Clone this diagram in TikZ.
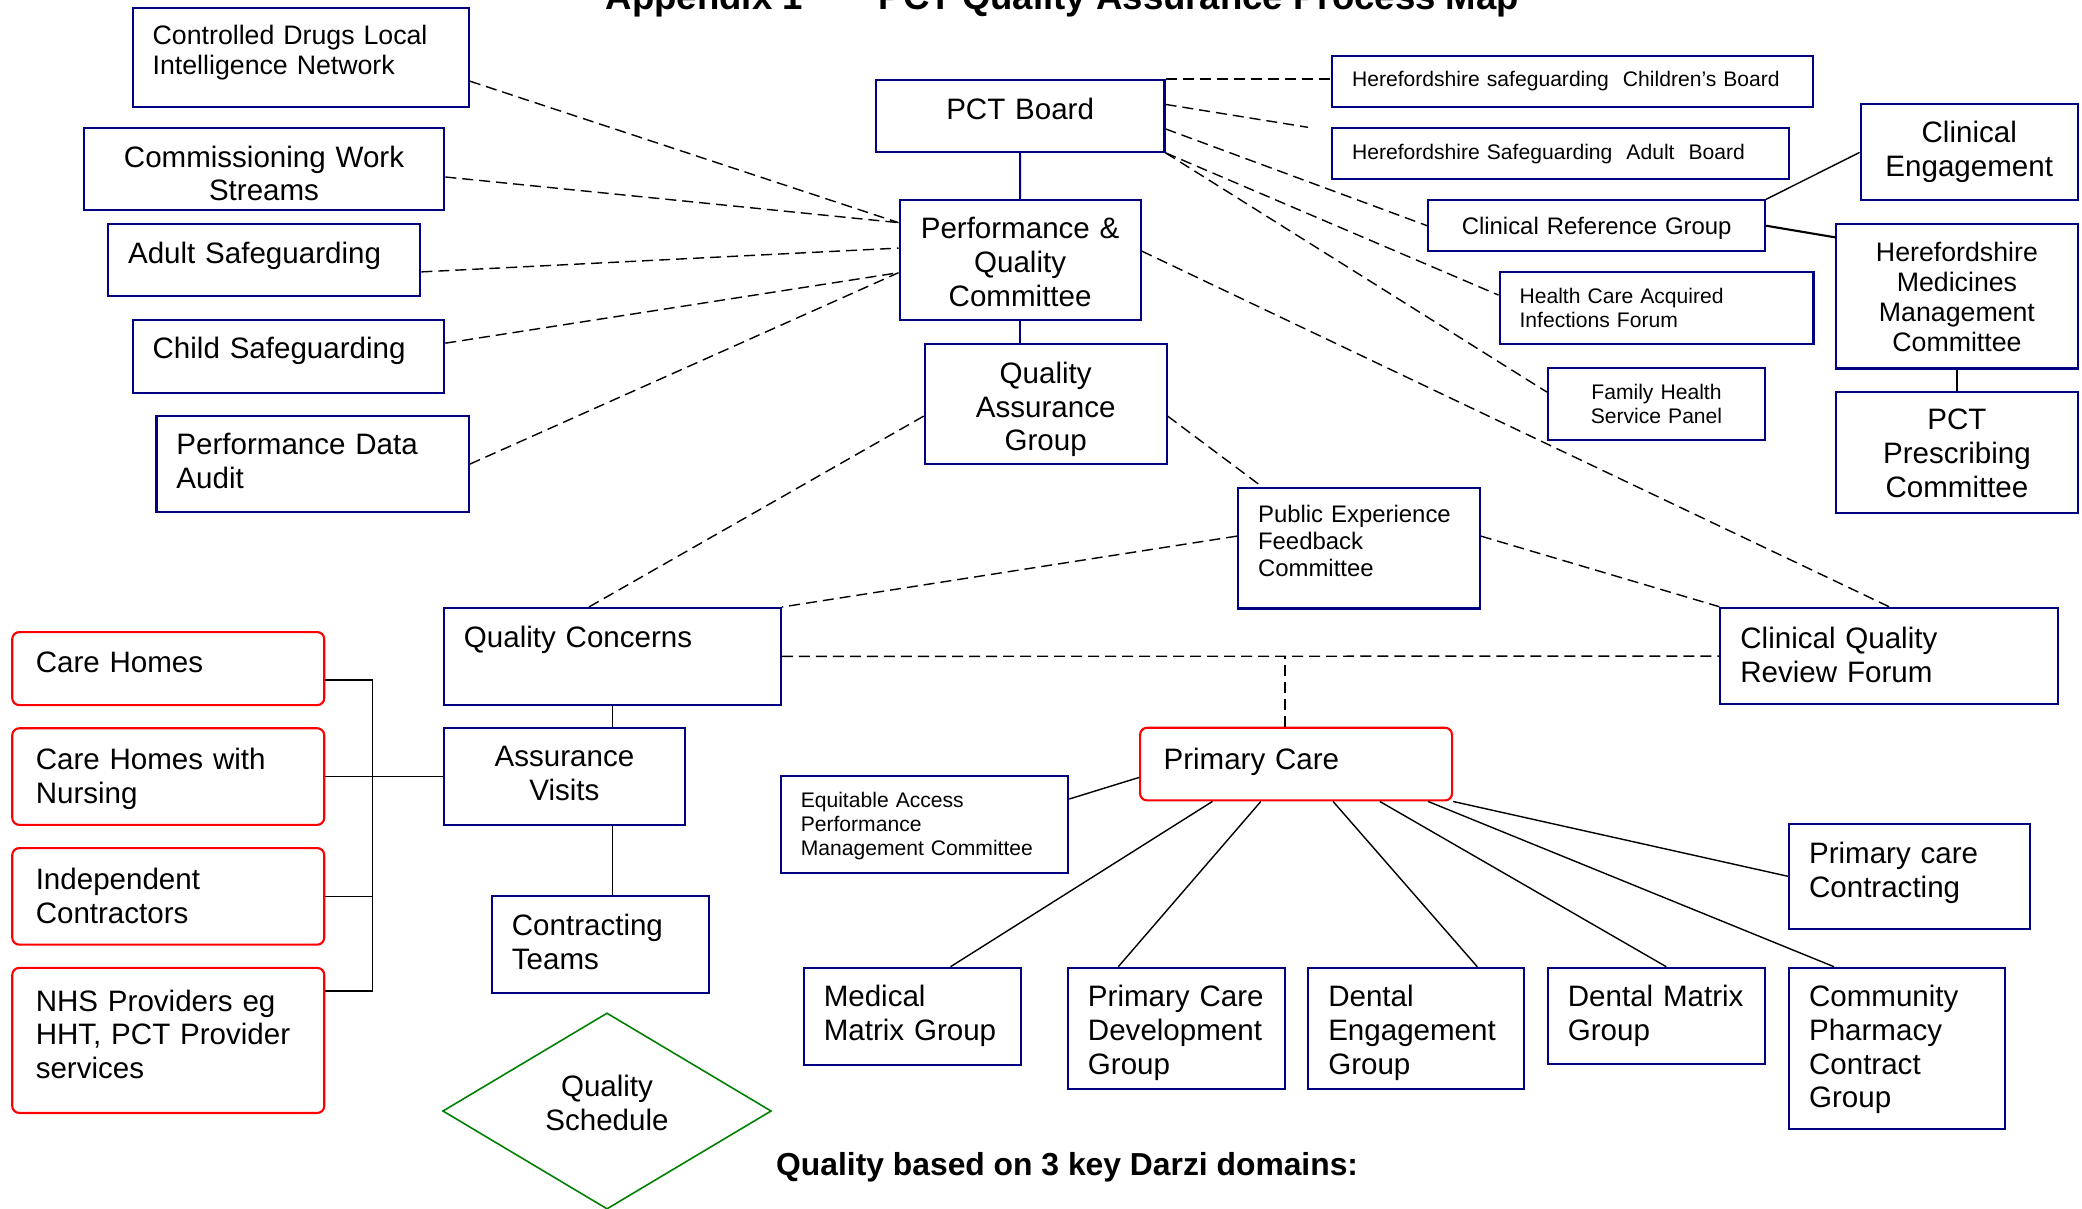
\documentclass[tikz,border=0pt]{standalone}
\usepackage{fontspec}
\setmainfont{Liberation Sans}
\usetikzlibrary{shapes.geometric}

\definecolor{boxblue}{RGB}{0,0,128}
\definecolor{carered}{RGB}{255,0,0}
\definecolor{schedgreen}{RGB}{0,128,0}

\newcommand{\sizemain}{\fontsize{8.4}{9.6}\selectfont}
\newcommand{\sizemid}{\fontsize{7.6}{8.55}\selectfont}
\newcommand{\sizesmall}{\fontsize{6.8}{7.6}\selectfont}
\newcommand{\sizetiny}{\fontsize{6}{6.8}\selectfont}
\newcommand{\sizetitle}{\fontsize{10.4}{12}\selectfont\bfseries}
\newcommand{\sizenote}{\fontsize{9.05}{11}\selectfont\bfseries}

\tikzset{
  navybox/.style={draw=boxblue, line width=0.6pt, fill=white, anchor=north west,
    inner xsep=0.2cm, inner ysep=0pt, font=\sizemain, align=left},
  redbox/.style={navybox, draw=carered, rounded corners=0.07cm, inner xsep=0.235cm},
  dims/.style n args={3}{text width=#1, text height=#2, text depth=#3},
  dashlink/.style={draw=black, line width=0.4pt, dash pattern=on 0.11cm off 0.06cm},
  link/.style={draw=black, line width=0.4pt},
  navylink/.style={draw=boxblue, line width=0.6pt},
}

\begin{document}
\begin{tikzpicture}[x=0.01cm, y=-0.01cm]
\useasboundingbox (0,0) rectangle (2082,1208);

\node (title) at (605,9) [anchor=base west, inner sep=0pt, font=\sizetitle] {Appendix 1\hspace{0.76cm}PCT Quality Assurance Process Map};
\node (darzi) at (775.5,1175) [anchor=base west, inner sep=0pt, font=\sizenote] {Quality based on 3 key Darzi domains:};

% left column
\node (cdlin) at (131.6,6.7) [navybox, font=\sizemid, dims={2.96cm}{0.365cm}{0.628cm}] {Controlled Drugs Local\\Intelligence Network};
\node (cws) at (82.7,127) [navybox, align=center, dims={3.203cm}{0.39cm}{0.428cm}] {Commissioning Work\\Streams};
\node (adult) at (107,222.6) [navybox, dims={2.72cm}{0.40cm}{0.324cm}] {Adult Safeguarding};
\node (child) at (131.6,318.7) [navybox, dims={2.714cm}{0.387cm}{0.341cm}] {Child Safeguarding};
\node (pda) at (155.4,415) [navybox, dims={2.722cm}{0.385cm}{0.575cm}] {Performance Data\\Audit};

% centre column
\node (pct) at (874.7,79) [navybox, align=center, dims={2.486cm}{0.392cm}{0.325cm}] {PCT Board};
\node (pqc) at (898.5,199) [navybox, align=center, dims={2.01cm}{0.386cm}{0.814cm}] {Performance \&\\Quality\\Committee};
\node (qag) at (923.7,343) [navybox, align=center, dims={2.017cm}{0.393cm}{0.807cm}] {Quality\\Assurance\\Group};
\node (pefc) at (1237,486.7) [navybox, font=\sizesmall, dims={2.016cm}{0.352cm}{0.854cm}] {Public Experience\\Feedback\\Committee};

% right column
\node (hscb) at (1331,55) [navybox, font=\sizetiny, dims={4.41cm}{0.309cm}{0.201cm}] {Herefordshire safeguarding\ \ Children’s Board};
\node (hsab) at (1331,127.3) [navybox, font=\sizetiny, dims={4.168cm}{0.31cm}{0.194cm}] {Herefordshire Safeguarding\ \ Adult\ \ Board};
\node (crg) at (1427.2,199.3) [navybox, font=\sizesmall, align=center, dims={2.966cm}{0.343cm}{0.164cm}] {Clinical Reference Group};
\node (hcai) at (1498.5,270.7) [navybox, font=\sizetiny, dims={2.737cm}{0.319cm}{0.407cm}] {Health Care Acquired\\Infections Forum};
\node (fhsp) at (1546.9,366.7) [navybox, font=\sizetiny, align=center, dims={1.769cm}{0.319cm}{0.407cm}] {Family Health\\Service Panel};
\node (ce) at (1859.6,103.3) [navybox, align=center, dims={1.77cm}{0.38cm}{0.58cm}] {Clinical\\Engagement};
\node (hmmc) at (1835,222.7) [navybox, font=\sizemid, align=center, dims={2.016cm}{0.376cm}{1.07cm}] {Herefordshire\\Medicines\\Management\\Committee};
\node (ppc) at (1835,390.7) [navybox, align=center, dims={2.016cm}{0.382cm}{0.828cm}] {PCT\\Prescribing\\Committee};
\node (cqrf) at (1719.3,606.7) [navybox, dims={2.971cm}{0.406cm}{0.56cm}] {Clinical Quality\\Review Forum};

% assurance and providers
\node (qc) at (442.9,607) [navybox, dims={2.967cm}{0.393cm}{0.572cm}] {Quality Concerns};
\node (av) at (442.9,727.2) [navybox, align=center, dims={2.008cm}{0.384cm}{0.581cm}] {Assurance\\Visits};
\node (ct) at (490.8,895) [navybox, dims={1.769cm}{0.394cm}{0.572cm}] {Contracting\\Teams};
\node (ch) at (11.2,631) [redbox, dims={2.648cm}{0.405cm}{0.325cm}] {Care Homes};
\node (chn) at (11.2,727.2) [redbox, dims={2.648cm}{0.416cm}{0.549cm}] {Care Homes with\\Nursing};
\node (ic) at (11.2,847) [redbox, dims={2.648cm}{0.416cm}{0.549cm}] {Independent\\Contractors};
\node (nhs) at (11.2,966.8) [redbox, dims={2.648cm}{0.432cm}{1.018cm}] {NHS Providers eg\\HHT, PCT Provider\\services};
\node (qs) at (607,1111) [diamond, draw=schedgreen, line width=0.45pt, fill=white, minimum width=3.285cm, minimum height=1.91cm, inner sep=0pt, align=center, font=\sizemain, text height=0.555cm, text depth=0.175cm] {Quality\\Schedule};

% primary care
\node (pc) at (1139,726.7) [redbox, dims={2.648cm}{0.412cm}{0.314cm}] {Primary Care};
\node (eapmc) at (779.7,775) [navybox, font=\sizetiny, dims={2.472cm}{0.316cm}{0.651cm}] {Equitable Access\\Performance\\Management Committee};
\node (pcc) at (1788,822.7) [navybox, dims={2.004cm}{0.396cm}{0.654cm}] {Primary care\\Contracting};
\node (mmg) at (802.7,966.7) [navybox, dims={1.774cm}{0.389cm}{0.584cm}] {Medical\\Matrix Group};
\node (pcdg) at (1066.9,966.7) [navybox, dims={1.766cm}{0.389cm}{0.821cm}] {Primary Care\\Development\\Group};
\node (deg) at (1307.2,966.7) [navybox, dims={1.758cm}{0.389cm}{0.821cm}] {Dental\\Engagement\\Group};
\node (dmg) at (1546.8,966.7) [navybox, dims={1.766cm}{0.389cm}{0.577cm}] {Dental Matrix\\Group};
\node (cpcg) at (1788,966.7) [navybox, dims={1.758cm}{0.389cm}{1.221cm}] {Community\\Pharmacy\\Contract\\Group};

% into the committee
\coordinate (pqcA) at ([yshift=-0.236cm]pqc.north west);
\coordinate (pqcB) at ([yshift=0.12cm]pqc.west);
\coordinate (pqcC) at ([yshift=-0.126cm]pqc.west);
\draw [dashlink] ([yshift=0.27cm]cdlin.south east) -- (pqcA);
\draw [dashlink] ([yshift=-0.08cm]cws.east) -- (pqcA);
\draw [dashlink] ([yshift=-0.12cm]adult.east) -- (pqcB);
\draw [dashlink] ([yshift=0.13cm]child.east) -- (pqcC);
\draw [dashlink] (pda.east) -- (pqcC);

% board links
\coordinate (hsabgap) at ([xshift=-0.23cm]hsab.north west);
\draw [dashlink] (pct.north east) -- (pct.north east -| hscb.west);
\draw [dashlink] ([yshift=0.115cm]pct.east) -- (hsabgap);
\draw [dashlink] ([yshift=-0.13cm]pct.east) -- (crg.west);
\draw [dashlink] (pct.south east) -- ([yshift=0.13cm]hcai.west);
\draw [dashlink] (pct.south east) -- ([yshift=0.12cm]fhsp.west);
\draw [dashlink] ([yshift=0.09cm]pqc.east) -- (cqrf.north);
\draw [navylink] (pct.south) -- (pqc.north);
\draw [navylink] (pqc.south) -- (pqc.south |- qag.north);
\draw [link] (crg.north east) -- (ce.west);
\draw [link, line width=0.6pt] (crg.east) -- ([yshift=-0.146cm]hmmc.north west);
\draw [link] (hmmc.south) -- (ppc.north);

% quality assurance group
\draw [dashlink] ([yshift=-0.12cm]qag.west) -- ([xshift=-0.235cm]qc.north);
\draw [dashlink] ([yshift=-0.12cm]qag.east) -- ([xshift=0.25cm]pefc.north west);
\draw [dashlink] ([yshift=0.12cm]pefc.west) -- (qc.north east);
\draw [dashlink] ([yshift=0.12cm]pefc.east) -- (cqrf.north west);
\draw [dashlink] (qc.east) -- (cqrf.west);
\draw [dashlink] ([xshift=-0.11cm]pc.north) -- ([xshift=-0.11cm]pc.north |- qc.east);

% assurance visits
\draw [link] (qc.south) -- (qc.south |- av.north);
\draw [link] (qc.south |- av.south) -- (qc.south |- ct.north);
\draw [link] ([yshift=-0.115cm]ch.east) -- ++(47.4,0) |- ([yshift=-0.24cm]nhs.north east);
\draw [link] (chn.east) -- (av.west);
\draw [link] (ic.east) -- ++(47.4,0);

% primary care groups
\draw [link] ([yshift=0.24cm]pc.south west) -- ([yshift=-0.24cm]eapmc.north east);
\draw [link] (pc.south east) -- (pcc.west);
\draw [link] ([xshift=-0.836cm]pc.south) -- ([xshift=0.38cm]mmg.north);
\draw [link] ([xshift=-0.352cm]pc.south) -- ([xshift=-0.58cm]pcdg.north);
\draw [link] ([xshift=0.37cm]pc.south) -- ([xshift=0.61cm]deg.north);
\draw [link] ([xshift=0.837cm]pc.south) -- ([xshift=0.1cm]dmg.north);
\draw [link] ([xshift=1.32cm]pc.south) -- ([xshift=-0.63cm]cpcg.north);
\end{tikzpicture}
\end{document}
